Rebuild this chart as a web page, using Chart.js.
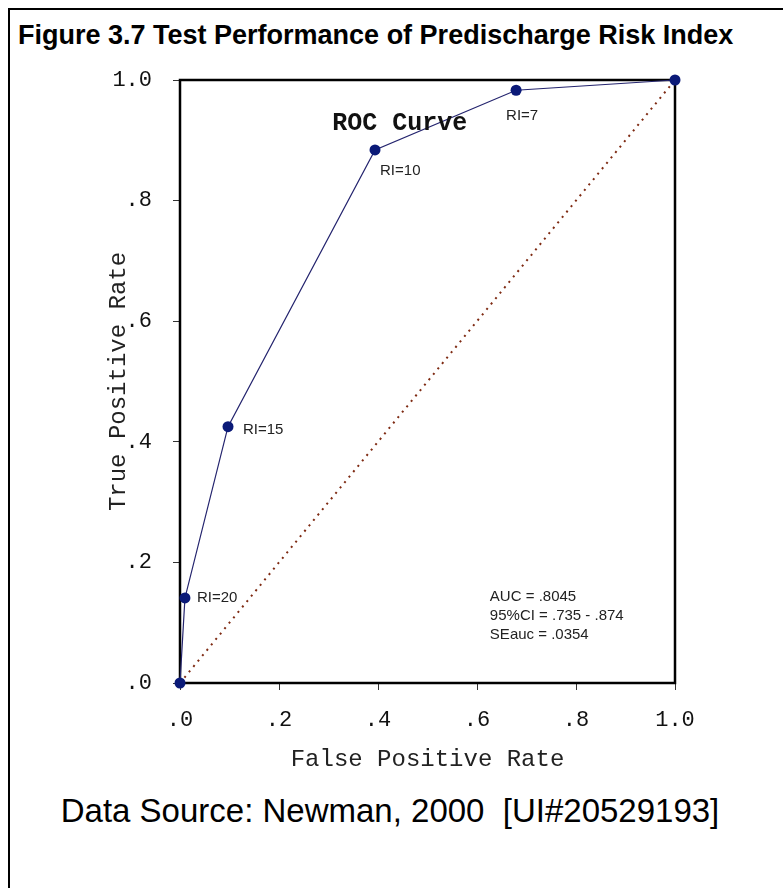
<!DOCTYPE html>
<html>
<head>
<meta charset="utf-8">
<script src="https://cdn.jsdelivr.net/npm/chart.js@4.4.1/dist/chart.umd.min.js"></script>
<style>
  html, body { margin: 0; padding: 0; background: #fff; overflow: hidden; }
  body { width: 783px; height: 888px; position: relative; }
  #frame { position: absolute; left: 8px; top: 8px; width: 800px; height: 900px; border: 2px solid #000; box-sizing: border-box; }
  #title { position: absolute; left: 18px; top: 22px; font: bold 27px 'Liberation Sans', Arial, sans-serif; line-height: 27px; color: #000; white-space: pre; }
  #source { position: absolute; left: 0; width: 780px; top: 794px; text-align: center; font: 33px 'Liberation Sans', Arial, sans-serif; line-height: 33px; color: #000; white-space: pre; }
  #chart { position: absolute; left: 0; top: 0; }
</style>
</head>
<body>
<div id="frame"></div>
<div id="title">Figure 3.7 Test Performance of Predischarge Risk Index</div>
<div id="source">Data Source: Newman, 2000  [UI#20529193]</div>
<canvas id="chart" width="783" height="888"></canvas>
<script>
// ---- data ----
const fprValues = [0, 0.01, 0.097, 0.394, 0.679, 1.0];
const tprValues = [0, 0.141, 0.425, 0.884, 0.983, 1.0];
const pointLabels = ['', 'RI=20', 'RI=15', 'RI=10', 'RI=7', ''];
const chanceX = [0, 1];
const chanceY = [0, 1];
const xTickLabels = ['.0', '.2', '.4', '.6', '.8', '1.0'];
const yTickLabels = ['.0', '.2', '.4', '.6', '.8', '1.0'];
const statLines = ['AUC = .8045', '95%CI = .735 - .874', 'SEauc = .0354'];
const curveTitle = 'ROC Curve';

// ---- build ----
const rocData = fprValues.map((x, i) => ({ x: x, y: tprValues[i] }));
const chanceData = chanceX.map((x, i) => ({ x: x, y: chanceY[i] }));

const mono = "'Liberation Mono', 'Courier New', monospace";
const sans = "'Liberation Sans', Arial, sans-serif";

// label offsets (pixels) relative to their points
const labelOffsets = [null, [12, 0], [15, 3], [5, 21], [-10, 26], null];

const decorPlugin = {
  id: 'decor',
  beforeDatasetsDraw(chart) {
    const { ctx, chartArea: a } = chart;
    ctx.save();
    ctx.strokeStyle = '#000';
    ctx.lineWidth = 2.5;
    ctx.strokeRect(a.left, a.top, a.right - a.left, a.bottom - a.top);
    ctx.restore();
  },
  afterDatasetsDraw(chart) {
    const { ctx } = chart;
    const xs = chart.scales.x, ys = chart.scales.y;
    ctx.save();
    ctx.font = '15px ' + sans;
    ctx.fillStyle = '#222';
    ctx.textAlign = 'left';
    ctx.textBaseline = 'middle';
    pointLabels.forEach((t, i) => {
      if (!t) return;
      const px = xs.getPixelForValue(fprValues[i]);
      const py = ys.getPixelForValue(tprValues[i]);
      const o = labelOffsets[i];
      ctx.fillText(t, px + o[0], py + o[1]);
    });
    ctx.font = 'bold 25px ' + mono;
    ctx.fillStyle = '#111';
    ctx.textAlign = 'center';
    ctx.fillText(curveTitle, xs.getPixelForValue(0.444), ys.getPixelForValue(0.927));
    ctx.font = '15px ' + sans;
    ctx.fillStyle = '#222';
    ctx.textAlign = 'left';
    const sx = xs.getPixelForValue(0.626);
    const sy = ys.getPixelForValue(0.143);
    statLines.forEach((t, i) => ctx.fillText(t, sx, sy + i * 19));
    ctx.restore();
  }
};

new Chart(document.getElementById('chart'), {
  type: 'scatter',
  data: {
    datasets: [
      {
        label: 'ROC',
        data: rocData,
        showLine: true,
        borderColor: '#24246e',
        borderWidth: 1.2,
        pointRadius: 5.5,
        pointHoverRadius: 5.5,
        pointBackgroundColor: '#0b1a78',
        pointBorderWidth: 0,
        tension: 0,
        clip: false,
        order: 0
      },
      {
        label: 'Chance',
        data: chanceData,
        showLine: true,
        borderColor: '#7e2a12',
        borderWidth: 2,
        borderDash: [2, 5],
        pointRadius: 0,
        clip: false,
        order: 1
      }
    ]
  },
  options: {
    responsive: false,
    devicePixelRatio: 1,
    animation: false,
    events: [],
    layout: { padding: { left: 60, top: 80, right: 108, bottom: 105 }, autoPadding: false },
    plugins: { legend: { display: false }, tooltip: { enabled: false }, title: { display: false } },
    scales: {
      x: {
        type: 'linear', min: 0, max: 1,
        afterFit(scale) { scale.height = 100; },
        border: { display: false },
        grid: { display: true, drawOnChartArea: false, drawTicks: true, tickLength: 7, color: '#333', lineWidth: 1 },
        ticks: {
          stepSize: 0.2, padding: 17, color: '#111', maxRotation: 0, autoSkip: false,
          font: { family: mono, size: 22 },
          callback: (v, i) => xTickLabels[i]
        },
        title: { display: true, text: 'False Positive Rate', color: '#222', font: { family: mono, size: 24 }, padding: { top: 0, bottom: 9 } }
      },
      y: {
        type: 'linear', min: 0, max: 1,
        afterFit(scale) { scale.width = 120; },
        border: { display: false },
        grid: { display: true, drawOnChartArea: false, drawTicks: true, tickLength: 7, color: '#333', lineWidth: 1 },
        ticks: {
          stepSize: 0.2, padding: 21, color: '#111', autoSkip: false,
          font: { family: mono, size: 22 },
          callback: (v, i) => yTickLabels[i]
        },
        title: { display: true, text: 'True Positive Rate', color: '#222', font: { family: mono, size: 24 }, padding: { top: 44, bottom: 0 } }
      }
    }
  },
  plugins: [decorPlugin]
});
</script>
</body>
</html>
